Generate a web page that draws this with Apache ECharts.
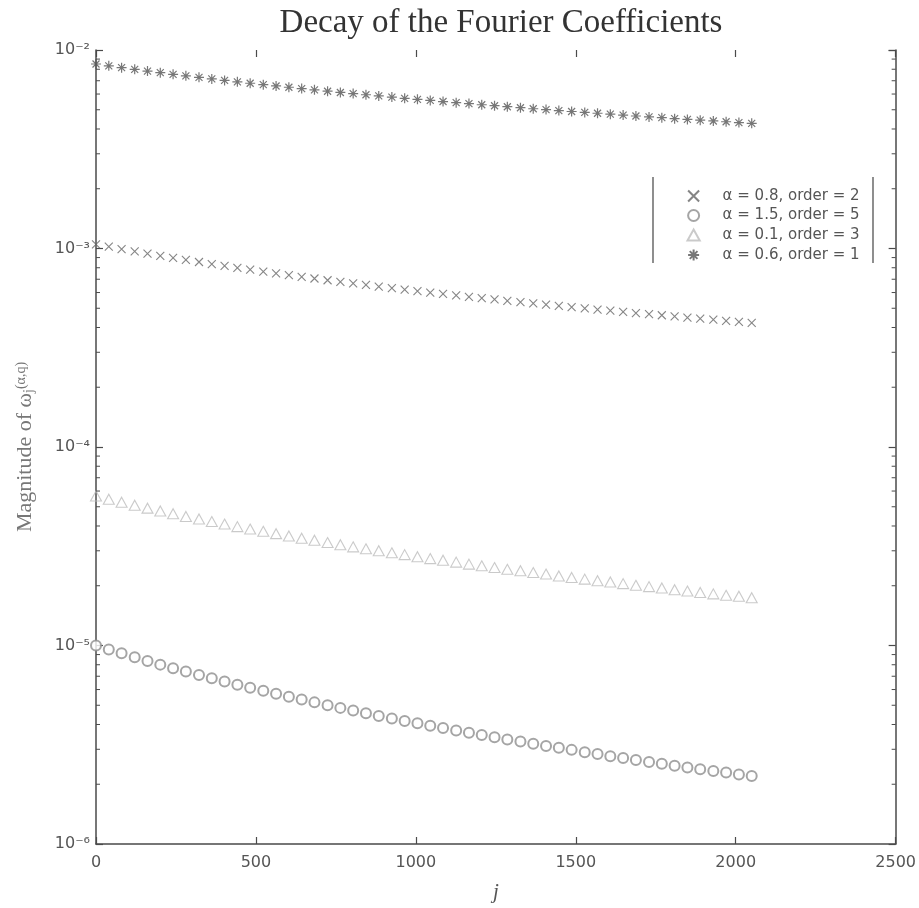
<!DOCTYPE html>
<html>
<head>
<meta charset="utf-8">
<script src="https://cdn.jsdelivr.net/npm/echarts@6/dist/echarts.min.js"></script>
<style>html,body{margin:0;padding:0;background:#fff;overflow:hidden;}#chart{width:919px;height:908px;}</style>
</head>
<body>
<div id="chart"></div>
<script>
// j indices of the plotted coefficients
const jValues = [0,40,80,121,161,201,241,281,322,362,402,442,482,523,563,603,643,683,724,764,804,844,884,925,965,1005,1045,1085,1126,1166,1206,1246,1286,1327,1367,1407,1447,1487,1528,1568,1608,1648,1688,1729,1769,1809,1849,1889,1930,1970,2010,2050];

// alpha = 0.8, order = 2  (x markers)
const seriesA08 = [1.050e-3,1.021e-3,0.994e-3,0.967e-3,0.943e-3,0.919e-3,0.897e-3,0.876e-3,0.855e-3,0.835e-3,0.817e-3,0.799e-3,0.782e-3,0.765e-3,0.749e-3,0.734e-3,0.720e-3,0.706e-3,0.692e-3,0.679e-3,0.667e-3,0.655e-3,0.643e-3,0.632e-3,0.621e-3,0.610e-3,0.600e-3,0.590e-3,0.581e-3,0.571e-3,0.562e-3,0.554e-3,0.545e-3,0.537e-3,0.529e-3,0.521e-3,0.514e-3,0.507e-3,0.499e-3,0.492e-3,0.486e-3,0.479e-3,0.473e-3,0.467e-3,0.461e-3,0.455e-3,0.449e-3,0.443e-3,0.438e-3,0.432e-3,0.427e-3,0.422e-3];

// alpha = 1.5, order = 5  (circles)
const seriesA15 = [1.000e-5,9.55e-6,9.13e-6,8.72e-6,8.36e-6,8.01e-6,7.69e-6,7.39e-6,7.10e-6,6.84e-6,6.58e-6,6.35e-6,6.12e-6,5.91e-6,5.71e-6,5.52e-6,5.34e-6,5.17e-6,5.00e-6,4.85e-6,4.70e-6,4.56e-6,4.42e-6,4.29e-6,4.17e-6,4.06e-6,3.94e-6,3.84e-6,3.73e-6,3.63e-6,3.54e-6,3.45e-6,3.36e-6,3.28e-6,3.20e-6,3.12e-6,3.05e-6,2.98e-6,2.90e-6,2.84e-6,2.77e-6,2.71e-6,2.65e-6,2.59e-6,2.54e-6,2.48e-6,2.43e-6,2.38e-6,2.33e-6,2.29e-6,2.24e-6,2.20e-6];

// alpha = 0.1, order = 3  (triangles)
const seriesA01 = [5.66e-5,5.46e-5,5.27e-5,5.09e-5,4.92e-5,4.76e-5,4.61e-5,4.47e-5,4.34e-5,4.21e-5,4.09e-5,3.97e-5,3.86e-5,3.76e-5,3.66e-5,3.56e-5,3.47e-5,3.39e-5,3.30e-5,3.22e-5,3.14e-5,3.07e-5,3.00e-5,2.93e-5,2.87e-5,2.80e-5,2.74e-5,2.69e-5,2.63e-5,2.57e-5,2.52e-5,2.47e-5,2.42e-5,2.38e-5,2.33e-5,2.29e-5,2.24e-5,2.20e-5,2.16e-5,2.12e-5,2.09e-5,2.05e-5,2.01e-5,1.98e-5,1.95e-5,1.91e-5,1.88e-5,1.85e-5,1.82e-5,1.79e-5,1.77e-5,1.74e-5];

// alpha = 0.6, order = 1  (asterisks)
const seriesA06 = [8.50e-3,8.32e-3,8.15e-3,7.99e-3,7.83e-3,7.69e-3,7.54e-3,7.41e-3,7.28e-3,7.15e-3,7.03e-3,6.91e-3,6.80e-3,6.69e-3,6.59e-3,6.49e-3,6.39e-3,6.30e-3,6.20e-3,6.11e-3,6.03e-3,5.95e-3,5.87e-3,5.79e-3,5.71e-3,5.64e-3,5.57e-3,5.50e-3,5.43e-3,5.37e-3,5.30e-3,5.24e-3,5.18e-3,5.12e-3,5.06e-3,5.01e-3,4.95e-3,4.90e-3,4.85e-3,4.80e-3,4.75e-3,4.70e-3,4.65e-3,4.60e-3,4.56e-3,4.51e-3,4.47e-3,4.43e-3,4.39e-3,4.35e-3,4.31e-3,4.27e-3];

const seriesNames = ['α = 0.8, order = 2','α = 1.5, order = 5','α = 0.1, order = 3','α = 0.6, order = 1'];
const xTicks = [0,500,1000,1500,2000,2500];
const yDecades = [1e-6,1e-5,1e-4,1e-3,1e-2];
const minorMantissas = [2,3,4,5,6,7,8,9];

const supMap = {'-':'⁻','0':'⁰','1':'¹','2':'²','3':'³','4':'⁴','5':'⁵','6':'⁶','7':'⁷','8':'⁸','9':'⁹'};
function sup(s){return String(s).split('').map(c=>supMap[c]||c).join('');}

const minorValues = [];
for (let d = 0; d < yDecades.length - 1; d++) {
  minorMantissas.forEach(m => minorValues.push([0, m * yDecades[d]]));
}

const pts = arr => jValues.map((j,i)=>[j, arr[i]]);

const symX = 'path://M0,0L10,10M10,0L0,10';
const symStar = 'path://M5,0L5,10M0,5L10,5M1.5,1.5L8.5,8.5M8.5,1.5L1.5,8.5';
const symTri = 'path://M5,0L10,9L0,9Z';

const axisColor = '#4a4a4a';
const chart = echarts.init(document.getElementById('chart'), null, {renderer:'canvas', width:919, height:908});
chart.setOption({
  backgroundColor:'#ffffff',
  animation:false,
  title:{
    text:'Decay of the Fourier Coefficients',
    left:496, top:2, textAlign:'center',
    textStyle:{fontFamily:'Liberation Serif', fontWeight:'normal', fontSize:33, color:'#333'}
  },
  grid:{left:96, right:22, top:50, bottom:57, containLabel:false},
  legend:{
    data:seriesNames,
    orient:'vertical',
    left:680, top:183,
    itemWidth:26, itemHeight:11, itemGap:4,
    textStyle:{fontFamily:'DejaVu Sans', fontSize:15, color:'#555', padding:[0,0,0,11]}
  },
  graphic:[
    {type:'line', shape:{x1:653,y1:177,x2:653,y2:263}, style:{stroke:'#444', lineWidth:1.2}, silent:true},
    {type:'line', shape:{x1:873,y1:177,x2:873,y2:263}, style:{stroke:'#444', lineWidth:1.2}, silent:true}
  ],
  xAxis:[
    {type:'value', min:xTicks[0], max:xTicks[xTicks.length-1], interval:500, position:'bottom',
     axisLine:{show:true, onZero:false, lineStyle:{color:axisColor, width:1.5}},
     axisTick:{show:true, inside:true, length:7, lineStyle:{color:axisColor, width:1.2}},
     axisLabel:{color:'#555', fontSize:16, fontFamily:'DejaVu Sans', margin:11, formatter:v=>String(v)},
     splitLine:{show:false},
     name:'j', nameLocation:'middle', nameGap:38,
     nameTextStyle:{fontFamily:'Liberation Serif', fontStyle:'italic', fontSize:21, color:'#555'}},
    {type:'value', min:xTicks[0], max:xTicks[xTicks.length-1], interval:500, position:'top',
     axisLine:{show:false},
     axisTick:{show:true, inside:true, length:7, lineStyle:{color:axisColor, width:1.2}},
     axisLabel:{show:false}, splitLine:{show:false}}
  ],
  yAxis:[
    {type:'log', logBase:10, min:1e-6, max:1e-2, position:'left',
     axisLine:{show:true, onZero:false, lineStyle:{color:axisColor, width:1.5}},
     axisTick:{show:true, inside:true, length:7, lineStyle:{color:axisColor, width:1.2}},
     axisLabel:{color:'#555', fontSize:16, fontFamily:'DejaVu Sans', margin:6,
       formatter:v=>'10'+sup(Math.round(Math.log10(v)))},
     splitLine:{show:false},
     name:'Magnitude of ω{sub|j}{sup|(α,q)}', nameLocation:'middle', nameGap:60,
     nameTextStyle:{fontFamily:'Liberation Serif', fontSize:22, color:'#777',
       rich:{sub:{fontFamily:'Liberation Serif', fontSize:14, color:'#777', verticalAlign:'bottom', lineHeight:14},
             sup:{fontFamily:'Liberation Serif', fontSize:14, color:'#777', verticalAlign:'top', lineHeight:14}}}},
    {type:'log', logBase:10, min:1e-6, max:1e-2, position:'right',
     axisLine:{show:true, onZero:false, lineStyle:{color:axisColor, width:1.5}},
     axisTick:{show:true, inside:true, length:7, lineStyle:{color:axisColor, width:1.2}},
     axisLabel:{show:false}, splitLine:{show:false}}
  ],
  series:[
    {name:seriesNames[0], type:'scatter', data:pts(seriesA08), symbol:symX, symbolSize:8,
     itemStyle:{color:'none', borderColor:'#666', borderWidth:1.1}},
    {name:seriesNames[1], type:'scatter', data:pts(seriesA15), symbol:'emptyCircle', symbolSize:10,
     itemStyle:{color:'#8e8e8e', borderColor:'#8e8e8e', borderWidth:1}},
    {name:seriesNames[2], type:'scatter', data:pts(seriesA01), symbol:symTri, symbolSize:[11,10],
     itemStyle:{color:'none', borderColor:'#bdbdbd', borderWidth:1.1}},
    {name:seriesNames[3], type:'scatter', data:pts(seriesA06), symbol:symStar, symbolSize:10,
     itemStyle:{color:'none', borderColor:'#555', borderWidth:1.2}},
    {type:'custom', silent:true, z:3, data:minorValues,
     renderItem:(params, api)=>{
       const v = api.value(1);
       const l = api.coord([xTicks[0], v]);
       const r = api.coord([xTicks[xTicks.length-1], v]);
       return {type:'group', children:[
         {type:'line', shape:{x1:l[0], y1:l[1], x2:l[0]+4, y2:l[1]}, style:{stroke:axisColor, lineWidth:1}},
         {type:'line', shape:{x1:r[0]-4, y1:r[1], x2:r[0], y2:r[1]}, style:{stroke:axisColor, lineWidth:1}}
       ]};
     }}
  ]
});
</script>
</body>
</html>
